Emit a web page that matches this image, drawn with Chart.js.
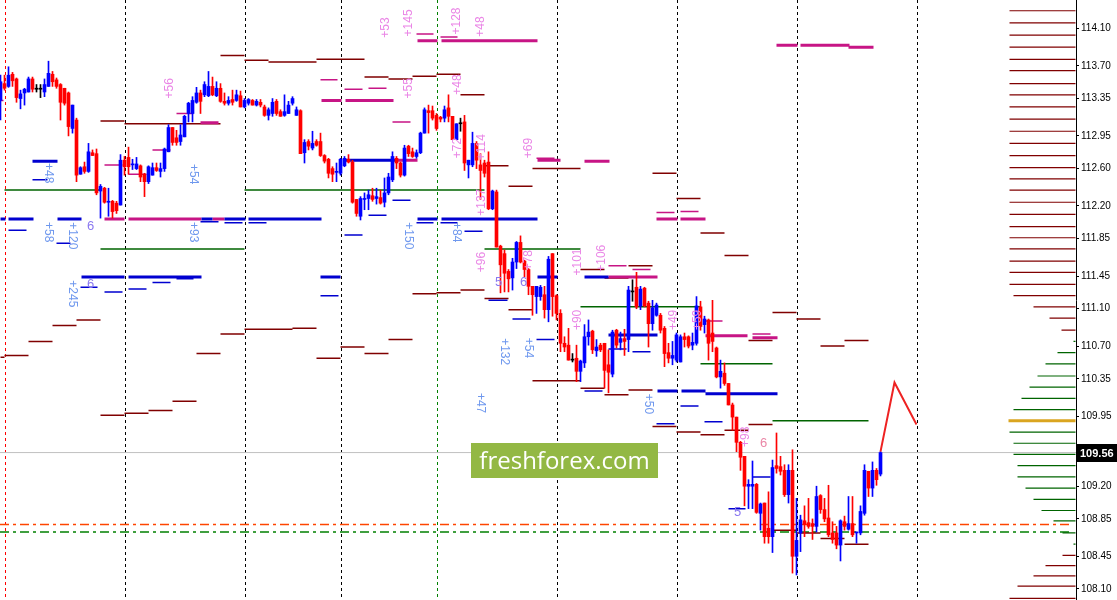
<!DOCTYPE html>
<html lang="es">
<head>
<meta charset="utf-8">
<title>Velas con niveles</title>
<script src="https://cdn.jsdelivr.net/npm/chart.js@4.4.1/dist/chart.umd.min.js"></script>
<style>
  html, body { margin: 0; padding: 0; background: #fff; }
  #contenedor { width: 1117px; height: 600px; position: relative; }
</style>
</head>
<body>
<div id="contenedor"><canvas id="graficoVelas"></canvas></div>
<script>
// ===================================
// DATOS DE LAS VELAS (una vela por barra)
// ===================================
const aperturas = [
  113.33,113.51,113.48,113.61,113.56,113.35,113.41,113.42,113.56,113.45,
  113.45,113.42,113.48,113.61,113.55,113.50,113.46,113.41,113.03,113.12,
  112.54,112.62,112.57,112.77,112.76,112.36,112.39,112.24,112.25,112.23,
  112.21,112.69,112.72,112.64,112.60,112.63,112.54,112.46,112.53,112.61,
  112.57,112.60,112.78,113.04,112.93,112.89,112.94,113.19,113.19,113.31,
  113.41,113.39,113.38,113.48,113.38,113.46,113.32,113.30,113.34,113.33,
  113.38,113.26,113.30,113.33,113.28,113.31,113.26,113.17,113.19,113.32,
  113.21,113.17,113.19,113.30,113.17,113.22,112.77,112.89,112.82,112.89,
  112.89,112.74,112.70,112.60,112.56,112.55,112.63,112.70,112.67,112.27,
  112.09,112.27,112.28,112.31,112.28,112.29,112.24,112.34,112.48,112.71,
  112.66,112.53,112.84,112.78,112.73,112.77,112.98,113.22,113.22,113.17,
  113.15,113.14,113.25,113.16,112.91,113.08,113.10,112.64,112.64,112.87,
  112.64,112.66,112.67,112.17,112.35,111.77,111.69,111.50,111.43,111.60,
  111.81,111.61,111.52,111.34,111.23,111.23,111.25,111.09,111.69,111.24,
  111.05,110.73,110.71,110.55,110.57,110.43,110.52,110.80,110.86,110.65,
  110.71,110.73,110.50,110.40,110.87,110.74,110.78,110.77,111.28,111.33,
  111.13,111.32,111.16,110.94,111.03,111.03,110.89,110.63,110.57,110.55,
  110.53,110.80,110.80,110.71,110.73,111.12,110.93,110.98,110.84,110.68,
  110.37,110.41,110.30,110.07,109.94,109.67,109.52,109.20,109.20,109.22,
  108.91,109.02,108.75,108.66,109.42,109.41,109.37,109.11,109.37,108.45,
  108.70,108.83,108.81,108.80,108.77,109.10,108.95,108.86,108.70,108.70,
  108.57,108.82,108.74,108.80,108.70,108.70,108.91,109.36,109.18,109.37,
  109.33
];
const maximos = [
  113.60,113.60,113.69,113.63,113.57,113.44,113.46,113.58,113.58,113.50,
  113.50,113.56,113.75,113.64,113.57,113.51,113.46,113.42,113.28,113.14,
  112.62,112.67,112.87,112.80,112.81,112.43,112.40,112.39,112.26,112.25,
  112.75,112.73,112.83,112.70,112.72,112.64,112.55,112.63,112.66,112.66,
  112.66,112.82,113.07,113.04,113.01,113.07,113.17,113.31,113.37,113.47,
  113.44,113.53,113.64,113.58,113.53,113.51,113.41,113.37,113.44,113.44,
  113.43,113.35,113.35,113.34,113.34,113.34,113.28,113.25,113.35,113.34,
  113.23,113.39,113.32,113.37,113.26,113.23,112.91,112.91,113.00,112.91,
  112.98,112.75,112.71,112.62,112.66,112.71,112.73,112.75,112.69,112.27,
  112.30,112.34,112.37,112.39,112.39,112.37,112.50,112.55,112.78,112.73,
  112.67,112.85,112.85,112.82,112.80,112.99,113.25,113.28,113.27,113.19,
  113.16,113.27,113.39,113.16,113.08,113.14,113.17,112.69,112.99,112.89,
  112.76,112.69,112.78,112.37,112.37,111.78,111.73,111.52,111.64,111.82,
  111.88,111.62,111.53,111.34,111.34,111.35,111.34,111.66,111.69,111.25,
  111.09,110.80,110.89,110.62,110.71,110.55,110.93,110.98,110.87,110.77,
  110.73,110.73,110.66,110.87,110.88,110.85,110.88,111.34,111.41,111.49,
  111.34,111.33,111.18,111.19,111.16,111.05,110.91,110.73,110.75,110.84,
  110.82,110.84,110.81,110.84,111.23,111.18,111.02,110.99,111.19,110.69,
  110.55,110.52,110.30,110.09,109.94,109.68,109.52,109.27,109.47,109.23,
  109.02,109.02,109.14,109.48,109.77,109.52,109.43,109.43,109.59,109.07,
  108.89,108.99,109.07,108.85,109.20,109.11,109.07,109.21,108.82,108.77,
  108.84,108.88,109.09,109.09,108.71,108.99,109.43,109.36,109.46,109.39,
  109.57
];
const minimos = [
  113.12,113.44,113.47,113.48,113.31,113.24,113.28,113.42,113.42,113.42,
  113.36,113.37,113.48,113.48,113.46,113.12,113.28,112.95,112.98,112.46,
  112.54,112.55,112.56,112.74,112.32,112.07,112.23,112.09,112.07,112.12,
  112.21,112.53,112.54,112.59,112.59,112.46,112.30,112.44,112.53,112.57,
  112.51,112.57,112.78,112.85,112.85,112.85,112.94,113.10,113.10,113.30,
  113.19,113.37,113.37,113.38,113.37,113.31,113.28,113.28,113.28,113.32,
  113.26,113.25,113.28,113.28,113.27,113.26,113.16,113.12,113.16,113.17,
  113.16,113.16,113.19,113.28,113.17,112.76,112.66,112.80,112.80,112.84,
  112.73,112.66,112.50,112.46,112.46,112.53,112.62,112.66,112.23,112.09,
  112.05,112.16,112.16,112.25,112.22,112.22,112.19,112.32,112.46,112.60,
  112.51,112.52,112.73,112.72,112.71,112.76,112.98,112.98,113.12,113.01,
  113.10,113.10,113.10,112.91,112.91,113.00,112.58,112.50,112.62,112.60,
  112.27,112.51,112.16,112.16,111.76,111.27,111.28,111.28,111.30,111.53,
  111.59,111.44,111.25,111.03,111.05,111.19,111.00,110.96,111.02,110.98,
  110.64,110.64,110.55,110.53,110.32,110.32,110.47,110.71,110.62,110.59,
  110.64,110.25,110.20,110.37,110.68,110.66,110.60,110.64,111.18,111.10,
  111.09,111.12,110.69,110.87,111.02,110.84,110.48,110.52,110.50,110.53,
  110.53,110.69,110.68,110.66,110.71,110.87,110.84,110.55,110.64,110.36,
  110.25,110.28,110.07,109.80,109.57,109.37,108.99,108.96,108.96,108.91,
  108.73,108.59,108.59,108.49,109.34,109.32,109.09,109.02,108.27,108.25,
  108.50,108.66,108.75,108.63,108.71,108.91,108.82,108.66,108.59,108.53,
  108.40,108.73,108.73,108.66,108.59,108.68,108.89,109.09,109.09,109.21,
  109.31
];
const cierres = [
  113.53,113.46,113.60,113.54,113.36,113.40,113.45,113.56,113.45,113.45,
  113.45,113.50,113.62,113.53,113.48,113.31,113.30,113.05,113.28,112.53,
  112.61,112.57,112.78,112.74,112.34,112.41,112.24,112.25,112.14,112.15,
  112.69,112.62,112.62,112.65,112.65,112.51,112.46,112.62,112.61,112.58,
  112.60,112.81,113.04,112.88,112.88,112.96,113.16,113.30,113.33,113.41,
  113.32,113.50,113.48,113.39,113.46,113.32,113.30,113.33,113.31,113.39,
  113.26,113.33,113.34,113.28,113.32,113.28,113.17,113.23,113.31,113.19,
  113.16,113.21,113.28,113.35,113.23,112.76,112.88,112.84,112.87,112.85,
  112.74,112.68,112.55,112.54,112.57,112.70,112.71,112.67,112.24,112.12,
  112.28,112.28,112.32,112.27,112.30,112.23,112.34,112.51,112.73,112.66,
  112.53,112.82,112.76,112.73,112.77,112.98,113.23,113.20,113.14,113.03,
  113.13,113.23,113.16,112.91,113.08,113.08,112.66,112.69,112.87,112.69,
  112.58,112.55,112.17,112.36,111.76,111.57,111.48,111.42,111.60,111.81,
  111.60,111.52,111.34,111.25,111.34,111.33,111.09,111.63,111.23,111.05,
  110.73,110.69,110.55,110.55,110.43,110.54,110.80,110.85,110.66,110.69,
  110.66,110.44,110.42,110.85,110.71,110.78,110.75,111.30,111.28,111.12,
  111.31,111.13,110.94,111.11,111.14,110.87,110.62,110.57,110.60,110.82,
  110.80,110.77,110.70,110.74,111.13,110.91,110.99,110.73,110.75,110.37,
  110.43,110.30,110.07,109.94,109.67,109.51,109.20,109.22,109.22,108.92,
  109.01,108.66,108.66,109.40,109.39,109.36,109.11,109.37,108.45,108.62,
  108.84,108.79,108.77,108.77,109.09,108.95,108.85,108.68,108.63,108.57,
  108.83,108.77,108.80,108.68,108.71,108.93,109.37,109.18,109.37,109.27,
  109.56
];

// Precio actual y eje
const precioActual = 109.56;
const nivelesEje = [114.10, 113.70, 113.35, 112.95, 112.60, 112.20, 111.85, 111.45, 111.10,
                    110.70, 110.35, 109.95, 109.60, 109.20, 108.85, 108.45, 108.10];

// Proyección (barra, precio)
const proyeccion = [[220, 109.57], [223.5, 110.31], [229, 109.86]];

// Separadores verticales (barra)
const separadoresNegros = [31, 61, 85, 139, 169, 199, 229];
const separadoresVerdes = [109];
const separadoresRojos = [1];

// Niveles punto-raya (precio)
const nivelNaranja = 108.79;
const nivelVerdePR = 108.71;

// ===================================
// SEGMENTOS [desde, hasta, precio]
// ===================================
const nivelesGranate = [
  [0,1,110.58],[1,7,110.60],[7,13,110.75],[13,19,110.92],[19,25,110.98],[25,31,109.96],
  [31,37,109.98],[37,43,110.01],[43,49,110.11],[49,55,110.62],[55,61,110.83],[61,67,110.88],
  [67,73,110.88],[73,79,110.89],[79,85,110.57],[85,91,110.69],[91,97,110.62],[97,103,110.77],
  [103,109,111.26],[109,115,111.27],[115,121,111.30],[121,127,111.21],[127,133,111.09],
  [133,145,110.33],[145,151,110.25],[151,157,110.18],[157,163,110.23],[163,169,109.84],
  [169,175,109.78],[175,181,109.75],[181,187,109.80],[187,193,109.86],[193,199,108.73],
  [199,205,108.70],[205,211,108.64],[211,217,108.58],
  [25,31,113.11],[31,55,113.08],[55,61,113.81],[61,67,113.76],[67,79,113.74],[79,91,113.77],
  [91,97,113.58],[97,103,113.56],[103,109,113.59],[109,115,113.61],[115,121,113.39],
  [121,127,112.63],[127,133,112.41],[133,145,112.60],[145,151,111.52],[151,157,111.43],
  [157,163,111.56],[163,169,112.55],[169,175,112.28],[175,181,111.91],[181,187,111.67],
  [187,193,110.76],[193,199,111.06],[199,205,110.99],[205,211,110.70],[211,217,110.76]
];
const nivelesVerdes = [
  [1,25,112.37],[25,61,111.74],[61,121,112.37],[121,145,111.74],[145,175,111.12],[175,193,110.51],[193,217,109.90]
];
const nivelesAzulGrueso = [
  [8,14.25,112.68],[0,1.25,112.06],[2,8.25,112.06],[14.25,20.25,112.06],[20.25,31,111.44],
  [32,50.25,111.44],[50.25,53,112.06],[56,61.25,112.06],[62,80.25,112.06],[80,85,111.44],
  [85.75,99.25,112.69],[104.25,109.25,112.06],[110.25,134.25,112.06],[134.25,139.25,111.44],
  [146,152,111.44],[152,164.25,110.82],[164.25,169.25,110.22],[170.25,176.25,110.22],[176.25,194.25,110.19]
];
const nivelesAzulFino = [
  [8,11.75,112.48],[2,6.5,111.94],[14,17.5,111.80],[20,24.25,111.33],[26,30.5,111.28],
  [32,36.5,111.31],[38,42.5,111.38],[44,48.25,111.42],[50,54.5,112.03],[56,60.5,112.02],
  [62,66.5,112.02],[80,84.5,111.24],[86,90.5,111.89],[92,96.5,112.10],[98,102.5,112.26],
  [104,108.25,112.02],[110,114.25,112.02],[116,120.5,111.93],[122,126.75,111.19],
  [128,132.5,110.99],[134,138.5,110.77],[146,150.5,110.22],[152,156.5,110.67],
  [158,162.5,110.64],[164,168.5,109.87],[170,174.5,110.06],[176,180.5,109.89],
  [182,186.25,108.96],[188,192.5,109.30]
];
const nivelesMagentaGrueso = [
  [26,31,112.06],[32,50.25,112.06],[53,56,112.06],[50,54.5,113.09],[80.25,85.25,113.33],
  [86.25,98.25,113.33],[99.25,104.25,112.69],[104.25,109.25,113.97],[110.25,134.25,113.97],
  [134.25,140,112.69],[146,152.25,112.68],[152,164.25,111.44],[164,169.25,112.06],
  [170,176.25,112.06],[176.25,186.75,110.81],[188,194.25,110.79],[194,199.25,113.92],
  [200,212.25,113.92],[212,218.25,113.90]
];
const nivelesMagentaFino = [
  [0,0.75,113.33],[26,30.5,112.64],[32,36.5,112.54],[38,42.5,112.80],[44,48.25,113.19],
  [80,84.25,113.55],[86,90.5,113.45],[92,96.5,113.46],[98,102.5,113.10],[104,108.25,114.04],
  [110,114.25,114.01],[134,138.5,112.71],[152,156.5,111.56],[158,162.5,111.52],
  [164,168.5,112.13],[170,174.5,112.14],[176,180.5,110.97],[188,192.5,110.83]
];

// Perfil de la derecha [precio, longitud en barras]
const perfilGranate = [
  [114.29,16.5],[114.16,16.5],[114.03,16.5],[113.90,16.5],[113.77,16.5],[113.65,16.5],
  [113.51,16.5],[113.39,16.5],[113.26,16.5],[113.13,16.5],[113.00,16.5],[112.87,16.5],
  [112.74,16.5],[112.61,16.5],[112.49,16.5],[112.37,16.5],[112.24,16.5],[112.11,16.5],
  [111.98,16.5],[111.86,16.5],[111.74,16.5],[111.61,16.5],[111.49,16.5],[111.36,16.5],
  [111.24,15.5],[111.12,10.5],[111.00,6.5],[110.87,3.5],
  [108.46,3.25],[108.35,7.5],[108.24,10.5],[108.13,14.5],[108.00,16.5]
];
const perfilVerde = [
  [110.75,0.5],[110.63,4.5],[110.51,7.5],[110.38,9.5],[110.26,11.5],[110.14,13.5],[110.02,15.5],
  [109.78,16.5],[109.66,15.5],[109.54,15.5],[109.42,14.5],[109.30,14.5],[109.18,12.5],
  [109.06,10.5],[108.94,8.5],[108.83,5.5],[108.70,3.25],[108.58,0.5]
];
const perfilDorado = [[109.90,16.75]];
const finPerfil = 268.75;

// Etiquetas [texto, barra, precio]
const etiquetasAzules = [
  ['+48',12,112.55],['+58',12,111.92],['+120',18,111.88],['+245',18,111.26],['+54',48.25,112.54],
  ['+93',48.25,111.92],['+150',102,111.88],['+84',114,111.92],['+132',126,110.64],['+54',132,110.68],
  ['+47',120,110.09],['+50',162,110.08]
];
const etiquetasRosas = [
  ['+56',42.25,113.46],['+53',96.25,114.11],['+145',102,114.16],['+55',102,113.46],['+128',114,114.18],
  ['+48',120,114.12],['+48',114.25,113.50],['+72',114.25,112.82],['+114',120.25,112.83],
  ['+137',120.25,112.24],['+69',132,112.82],['+96',120.25,111.60],['+78',132,111.62],
  ['+101',144.25,111.60],['+106',150.25,111.64],['+90',144.25,110.98],['+49',168.25,110.98],
  ['+59',174.25,110.98],['+98',186.25,109.73]
];
const etiquetasCortas = [
  ['6',22.5,111.98],['6',22.5,111.36],['6',130.75,111.38],['5',124.5,111.38],['5',184.25,108.92]
];
const etiquetasCortasRosas = [['6',190.75,109.66]];

// ===================================
// PREPARAR DATASETS
// ===================================
const indices = aperturas.map((_, i) => i);
const colorVela = indices.map(i => cierres[i] > aperturas[i] ? '#0000ff' : (cierres[i] < aperturas[i] ? '#ff0000' : '#000000'));

function segmentos(lista){
  const puntos = [];
  lista.forEach(([desde, hasta, precio]) => {
    puntos.push({x: desde, y: precio}, {x: hasta, y: precio}, {x: hasta, y: null});
  });
  return puntos;
}
function perfil(lista){
  return segmentos(lista.map(([precio, largo]) => [finPerfil - largo, finPerfil, precio]));
}
function lineaSeg(datos, color, ancho, orden, dash){
  return {
    type: 'line', data: datos, borderColor: color, borderWidth: ancho, pointRadius: 0,
    fill: false, spanGaps: false, tension: 0, order: orden, borderDash: dash || [],
    borderCapStyle: 'butt'
  };
}

// ===================================
// PLUGINS
// ===================================
const pluginSeparadores = {
  id: 'separadores',
  beforeDatasetsDraw(chart){
    const {ctx, chartArea, scales} = chart;
    const dibujar = (lista, color) => {
      lista.forEach(b => {
        const x = Math.round(scales.x.getPixelForValue(b)) + 0.5;
        ctx.save();
        ctx.strokeStyle = color; ctx.lineWidth = 1; ctx.setLineDash([3, 3]);
        ctx.beginPath(); ctx.moveTo(x, chartArea.top); ctx.lineTo(x, chartArea.bottom); ctx.stroke();
        ctx.restore();
      });
    };
    dibujar(separadoresNegros, '#000000');
    dibujar(separadoresVerdes, '#008000');
    dibujar(separadoresRojos, '#ff0000');
  }
};

function textoGirado(ctx, texto, x, y, angulo, color, fuente){
  ctx.save();
  ctx.translate(x, y); ctx.rotate(angulo);
  ctx.fillStyle = color; ctx.font = fuente;
  ctx.textAlign = 'center'; ctx.textBaseline = 'middle';
  ctx.fillText(texto, 0, 0);
  ctx.restore();
}

const pluginEtiquetas = {
  id: 'etiquetas',
  afterDatasetsDraw(chart){
    const {ctx, scales} = chart;
    const fuente = '12px "Liberation Sans", Arial, sans-serif';
    etiquetasAzules.forEach(([t, b, p]) => textoGirado(ctx, t, scales.x.getPixelForValue(b), scales.y.getPixelForValue(p), Math.PI / 2, '#6f98ee', fuente));
    etiquetasRosas.forEach(([t, b, p]) => textoGirado(ctx, t, scales.x.getPixelForValue(b), scales.y.getPixelForValue(p), -Math.PI / 2, '#ea86e6', fuente));
    etiquetasCortas.forEach(([t, b, p]) => textoGirado(ctx, t, scales.x.getPixelForValue(b), scales.y.getPixelForValue(p), 0, '#8a78f0', '13px "Liberation Sans", Arial, sans-serif'));
    etiquetasCortasRosas.forEach(([t, b, p]) => textoGirado(ctx, t, scales.x.getPixelForValue(b), scales.y.getPixelForValue(p), 0, '#ea86a6', '13px "Liberation Sans", Arial, sans-serif'));
  }
};

const pluginMarca = {
  id: 'marca',
  afterDraw(chart){
    const {ctx, chartArea, scales} = chart;
    // etiqueta de precio actual
    const y = scales.y.getPixelForValue(precioActual);
    ctx.save();
    ctx.fillStyle = '#000';
    ctx.fillRect(chartArea.right + 1, Math.round(y) - 9, chart.width - chartArea.right - 1, 18);
    ctx.fillStyle = '#fff';
    ctx.font = 'bold 11px "Liberation Sans", Arial, sans-serif';
    ctx.textBaseline = 'middle'; ctx.textAlign = 'left';
    ctx.fillText(precioActual.toFixed(2), chartArea.right + 4, Math.round(y) + 0.5);
    // marca de agua
    const w = 187, h = 35;
    const x0 = Math.round(chartArea.left + chartArea.width * 0.4378);
    const y0 = Math.round(chartArea.top + chartArea.height * 0.7383);
    ctx.fillStyle = '#93b844';
    ctx.fillRect(x0, y0, w, h);
    ctx.fillStyle = '#ffffff';
    ctx.font = '24px "Open Sans", "Noto Sans", sans-serif';
    ctx.textAlign = 'center'; ctx.textBaseline = 'alphabetic';
    ctx.fillText('freshforex.com', x0 + w / 2, y0 + 26);
    ctx.restore();
  }
};

// ===================================
// GRÁFICO
// ===================================
const canvas = document.getElementById('graficoVelas');
const grafico = new Chart(canvas.getContext('2d'), {
  type: 'bar',
  data: {
    datasets: [
      {
        type: 'bar', label: 'Cuerpos', data: indices.map(i => ({x: i, y: [aperturas[i], cierres[i]]})),
        backgroundColor: colorVela, barThickness: 3, minBarLength: 1, grouped: false, order: 0
      },
      {
        type: 'bar', label: 'Mechas', data: indices.map(i => ({x: i, y: [minimos[i], maximos[i]]})),
        backgroundColor: colorVela, barThickness: 1, grouped: false, order: 1
      },
      lineaSeg(proyeccion.map(([b, p]) => ({x: b, y: p})), '#ee2222', 2, 0),
      lineaSeg(segmentos(nivelesGranate), '#800000', 1.5, 5),
      lineaSeg(segmentos(nivelesVerdes), '#006400', 1.5, 5),
      lineaSeg(segmentos(nivelesAzulGrueso), '#0000d0', 3, 4),
      lineaSeg(segmentos(nivelesAzulFino), '#0000d0', 1.5, 4),
      lineaSeg(segmentos(nivelesMagentaGrueso), '#c71585', 3, 4),
      lineaSeg(segmentos(nivelesMagentaFino), '#c71585', 1.5, 4),
      lineaSeg(perfil(perfilGranate), '#800000', 1.2, 6),
      lineaSeg(perfil(perfilVerde), '#006400', 1.2, 6),
      lineaSeg(perfil(perfilDorado), '#daa520', 3, 6),
      lineaSeg([{x: -0.125, y: precioActual}, {x: 268.875, y: precioActual}], '#c0c0c0', 1, 7),
      lineaSeg([{x: -0.125, y: nivelNaranja}, {x: 267.5, y: nivelNaranja}], '#ff4500', 1.3, 6, [9, 4, 3, 4]),
      lineaSeg([{x: -0.125, y: nivelVerdePR}, {x: 267.5, y: nivelVerdePR}], '#008000', 1.3, 6, [9, 4, 3, 4])
    ]
  },
  options: {
    responsive: true,
    maintainAspectRatio: false,
    animation: false,
    events: [],
    layout: { padding: 0 },
    plugins: { legend: { display: false }, tooltip: { enabled: false } },
    scales: {
      x: {
        type: 'linear', display: false, min: -0.125, max: 268.875, offset: false,
        grid: { display: false }
      },
      y: {
        position: 'right', min: 107.982, max: 114.405,
        afterBuildTicks: s => { s.ticks = nivelesEje.map(v => ({value: v})); },
        afterFit: s => { s.width = 41; s.paddingTop = 0; s.paddingBottom = 0; },
        ticks: {
          color: '#000', padding: 2, autoSkip: false,
          font: { size: 10, family: '"Liberation Sans", Arial, sans-serif' },
          callback: v => Number(v).toFixed(2)
        },
        grid: { drawOnChartArea: false, drawTicks: true, tickLength: 3, color: '#000' },
        border: { display: true, color: '#000', width: 1 }
      }
    }
  },
  plugins: [pluginSeparadores, pluginEtiquetas, pluginMarca]
});
</script>
</body>
</html>
